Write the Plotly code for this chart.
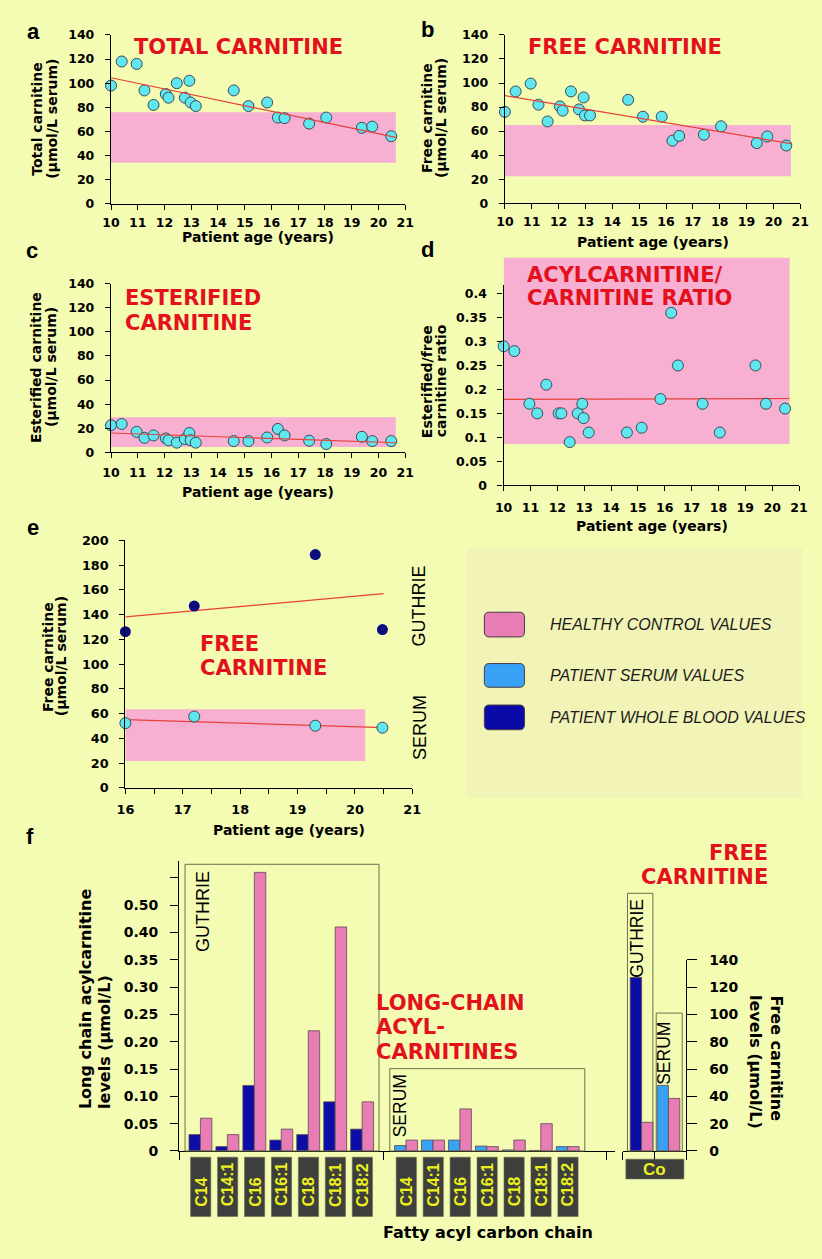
import plotly.graph_objects as go

W, H = 822, 1259
def X(p): return p / W
def Y(p): return 1 - p / H

# ---------------- data ----------------
age = [10.0, 10.4, 10.96, 11.25, 11.59, 12.05, 12.15, 12.46, 12.76, 12.93, 12.98,
       13.17, 14.59, 15.14, 15.84, 16.24, 16.49, 17.41, 18.05, 19.38, 19.77, 20.48]
total_carnitine = [98, 118, 116, 94, 82, 91, 88, 100, 88, 102, 84,
                   81, 94, 81, 84, 71.5, 71, 66.5, 71.5, 63, 64, 56]
free_carnitine = [76, 93, 99.5, 82, 68, 80.5, 77, 93, 78, 88, 73,
                  73, 86, 72, 72, 52, 56, 57, 64, 50, 55.5, 48]
esterified_carnitine = [22.5, 23.5, 17, 12, 14, 11.5, 10, 8, 11, 16, 10,
                        8, 9.3, 9.3, 12.3, 19.4, 14, 9.6, 6.8, 12.9, 9.3, 9.3]
ester_free_ratio = [0.29, 0.28, 0.17, 0.15, 0.21, 0.15, 0.15, 0.09, 0.15, 0.17, 0.14,
                    0.11, 0.11, 0.12, 0.18, 0.36, 0.25, 0.17, 0.11, 0.25, 0.17, 0.16]

trend_age = [10, 20.65]
total_trend = [104.5, 55]
free_trend = [89.5, 49.5]
ester_trend = [16, 7.9]
ratio_trend = [0.179, 0.181]

ref_age = [10, 20.65]
ref_total = [34, 76]
ref_free = [22.5, 65]
ref_ester = [4.4, 29]
ref_ratio = [0.086, 0.475]

e_age = [16.0, 17.2, 19.31, 20.48]
e_guthrie = [126.3, 147, 188.6, 128]
e_serum = [52.4, 57.7, 50.3, 48.7]
e_trend_age = [16, 20.5]
e_guthrie_trend = [138.3, 157]
e_serum_trend = [55.3, 48.7]
e_ref_age = [16, 20.18]
e_ref_free = [21.8, 63.6]

fatty = ["C14", "C14:1", "C16", "C16:1", "C18", "C18:1", "C18:2"]
guthrie_patient = [0.03, 0.008, 0.12, 0.02, 0.03, 0.09, 0.04]
guthrie_control = [0.06, 0.03, 0.51, 0.04, 0.22, 0.41, 0.09]
serum_patient = [0.01, 0.02, 0.02, 0.009, 0.002, 0.001, 0.008]
serum_control = [0.02, 0.02, 0.077, 0.008, 0.02, 0.05, 0.008]

co_groups = ["GUTHRIE", "SERUM"]
co_patient = [127, 48]
co_control = [21, 38.5]

f_ticks = [0, 0.05, 0.10, 0.15, 0.20, 0.25, 0.30, 0.35, 0.40, 0.45, 0.50]
f_ticktext = ["0", "0.05", "0.10", "0.15", "0.20", "0.25", "0.30", "0.35", "0.40", "0.50", ""]
ratio_ticks = [0, 0.05, 0.1, 0.15, 0.2, 0.25, 0.3, 0.35, 0.4]
ratio_ticktext = ["0", "0.05", "0.1", "0.15", "0.2", "0.25", "0.3", "0.35", "0.4"]

legend_items = ["HEALTHY CONTROL VALUES", "PATIENT SERUM VALUES", "PATIENT WHOLE BLOOD VALUES"]

# ---------------- styles ----------------
BG = "#f4fbb3"
LEG_BG = "#f2f3b6"
RED = "#e3111c"
CYAN = "#5fe6ef"
NAVY_M = "#0c0c7e"
NAVY = "#0c0ca6"
BLUE = "#38a2f6"
PINK = "#e87cb4"
BAND = "#f7afd2"
TREND = "#e8413a"
BOLD = "DejaVu Sans"
ARIAL = "Liberation Sans"

fig = go.Figure()

def scatter(x, y, ax, color=CYAN, outline=True):
    fig.add_trace(go.Scatter(
        x=x, y=y, mode="markers", xaxis=ax[0], yaxis=ax[1], cliponaxis=False,
        marker=dict(size=11, color=color,
                    line=dict(width=1 if outline else 0, color="#3a4a55")),
        showlegend=False, hoverinfo="skip"))

def line(x, y, ax):
    fig.add_trace(go.Scatter(
        x=x, y=y, mode="lines", xaxis=ax[0], yaxis=ax[1],
        line=dict(color=TREND, width=1.2), showlegend=False, hoverinfo="skip"))

# panels a-d
scatter(age, total_carnitine, ("x", "y"))
line(trend_age, total_trend, ("x", "y"))
scatter(age, free_carnitine, ("x2", "y2"))
line(trend_age, free_trend, ("x2", "y2"))
scatter(age, esterified_carnitine, ("x3", "y3"))
line(trend_age, ester_trend, ("x3", "y3"))
line(trend_age, ratio_trend, ("x4", "y4"))
scatter(age, ester_free_ratio, ("x4", "y4"))

# panel e
line(e_trend_age, e_guthrie_trend, ("x5", "y5"))
line(e_trend_age, e_serum_trend, ("x5", "y5"))
scatter(e_age, e_guthrie, ("x5", "y5"), color=NAVY_M, outline=False)
scatter(e_age, e_serum, ("x5", "y5"))

# panel f (left)
g_x = [i for i in range(len(fatty))]
s_x = [i + 7.63 for i in range(len(fatty))]
BW = 0.425
def bar(x, y, color, offset, width, ax):
    fig.add_trace(go.Bar(
        x=x, y=y, xaxis=ax[0], yaxis=ax[1], width=width, offset=offset,
        marker=dict(color=color, line=dict(color="#5a4a55", width=0.8)),
        showlegend=False, hoverinfo="skip"))

bar(g_x, guthrie_patient, NAVY, -BW, BW, ("x6", "y6"))
bar(g_x, guthrie_control, PINK, 0, BW, ("x6", "y6"))
bar(s_x, serum_patient, BLUE, -BW, BW, ("x6", "y6"))
bar(s_x, serum_control, PINK, 0, BW, ("x6", "y6"))

# panel f (right)
co_x = [0.59, 1.44]
bar(co_x, co_patient, [NAVY, BLUE], -0.36, 0.36, ("x7", "y7"))
bar(co_x, co_control, PINK, 0, 0.36, ("x7", "y7"))

# ---------------- axes ----------------
def base(size=12.5, ticklen=5, standoff=4):
    return dict(showline=True, linecolor="black", linewidth=1.4, ticks="outside",
                ticklen=ticklen, tickwidth=1.4, tickcolor="black", showgrid=False,
                zeroline=False, fixedrange=True, ticklabelstandoff=standoff,
                tickfont=dict(family=BOLD, size=size, color="black", weight="bold"))

ages_ticks = list(range(10, 22))
def xax(l, r, rng, anchor, tickvals, ticktext=None, **kw):
    d = base(**kw)
    d.update(domain=[X(l), X(r)], range=rng, anchor=anchor, tickmode="array", tickvals=tickvals)
    if ticktext is not None:
        d["ticktext"] = ticktext
    return d

def yax(top, bottom, rng, anchor, tickvals, ticktext=None, side="left", **kw):
    d = base(**kw)
    d.update(domain=[Y(bottom), Y(top)], range=rng, anchor=anchor, tickmode="array",
             tickvals=tickvals, side=side)
    if ticktext is not None:
        d["ticktext"] = ticktext
    return d

e_ticks = [16 + 0.5 * i for i in range(11)]
e_ticktext = [str(int(v)) if v == int(v) else "" for v in e_ticks]

fig.update_layout(
    xaxis=xax(104.3, 405, [10, 21], "y", ages_ticks, standoff=2),
    yaxis=yax(27.3, 198.3, [0, 140], "x", list(range(0, 141, 20)), standoff=8),
    xaxis2=xax(507, 809, [10, 21], "y2", ages_ticks, standoff=2),
    yaxis2=yax(27.3, 197.7, [0, 140], "x2", list(range(0, 141, 20)), standoff=8),
    xaxis3=xax(104.3, 405, [10, 21], "y3", ages_ticks, standoff=4),
    yaxis3=yax(279.3, 450, [0, 140], "x3", list(range(0, 141, 20)), standoff=8),
    xaxis4=xax(505.7, 807.7, [10, 21], "y4", ages_ticks, standoff=6),
    yaxis4=yax(280.6, 483.3, [0, 0.418], "x4", ratio_ticks, ratio_ticktext, standoff=8),
    xaxis5=xax(119, 412.3, [16, 21], "y5", e_ticks, e_ticktext, size=12.8, standoff=4),
    yaxis5=yax(539.3, 790, [0, 200], "x5", list(range(0, 201, 20)), size=12.8, standoff=8),
    xaxis6=xax(174, 620, [-0.788, 15.40], "y6", [-0.788, 6.81, 15.07],
               ["", "", ""], ticklen=8),
    yaxis6=yax(864.4, 1157.7, [0, 0.53], "x6", f_ticks, f_ticktext, size=14,
               ticklen=8, standoff=9),
    xaxis7=xax(627.7, 692.3, [0, 2], "y7", [0, 1, 2], ["", "", ""], ticklen=8),
    yaxis7=yax(964, 1157.7, [0, 140], "x7", list(range(0, 141, 20)), side="right",
               size=14, ticklen=10, standoff=9),
)

# ---------------- shapes ----------------
shapes = []
# legend background
shapes.append(dict(type="rect", xref="paper", yref="paper", x0=X(468.3), x1=X(811.7),
                   y0=Y(800), y1=Y(547.3), fillcolor=LEG_BG, line=dict(width=0), layer="below"))

def band(ax, xr, yr):
    shapes.append(dict(type="rect", xref=ax[0], yref=ax[1], x0=xr[0], x1=xr[1],
                       y0=yr[0], y1=yr[1], fillcolor=BAND, line=dict(width=0), layer="below"))

band(("x", "y"), ref_age, ref_total)
band(("x2", "y2"), ref_age, ref_free)
band(("x3", "y3"), ref_age, ref_ester)
band(("x5", "y5"), e_ref_age, e_ref_free)
# panel d band extends above the axis: use axis x / paper y (0.418 -> 280.6 px, scale 485 px/unit)
shapes.append(dict(type="rect", xref="x4", yref="paper", x0=ref_age[0], x1=ref_age[1],
                   y0=Y(483.3 - ref_ratio[0] * 485), y1=Y(483.3 - ref_ratio[1] * 485),
                   fillcolor=BAND, line=dict(width=0), layer="below"))

def pbox(l, t, r, b, color="#6d6d52", width=1, fill=None):
    d = dict(type="rect", xref="paper", yref="paper", x0=X(l), x1=X(r), y0=Y(b), y1=Y(t),
             line=dict(color=color, width=width))
    if fill:
        d["fillcolor"] = fill
    shapes.append(d)

pbox(180, 867.3, 378.3, 1157.7)
pbox(389.3, 1074.3, 588.7, 1157.7)
pbox(632.3, 896.7, 658.3, 1157.7)
pbox(661.7, 1018, 688.3, 1157.7)

# category label boxes
for pos in g_x + s_x:
    shapes.append(dict(type="rect", xref="x6", yref="paper", x0=pos - 0.365, x1=pos + 0.385,
                       y0=Y(1224), y1=Y(1164), fillcolor="#3d3f3c",
                       line=dict(color="#6a6a50", width=0.6)))
pbox(630.7, 1166, 690, 1186, color="#6a6a50", width=0.6, fill="#3d3f3c")

# legend swatches (rounded)
def rrect(l, t, r, b, rad=5):
    pts = [("M", l + rad, t), ("L", r - rad, t), ("Q", r, t, r, t + rad), ("L", r, b - rad),
           ("Q", r, b, r - rad, b), ("L", l + rad, b), ("Q", l, b, l, b - rad),
           ("L", l, t + rad), ("Q", l, t, l + rad, t)]
    s = ""
    for p in pts:
        cmd = p[0]
        coords = p[1:]
        parts = []
        for i in range(0, len(coords), 2):
            parts.append(f"{X(coords[i]):.5f},{Y(coords[i+1]):.5f}")
        s += cmd + " ".join(parts) + " "
    return s + "Z"

swatch_colors = [PINK, BLUE, "#0a0aa8"]
swatch_y = [(612, 637), (664, 688), (706, 731)]
for c, (t, b) in zip(swatch_colors, swatch_y):
    shapes.append(dict(type="path", xref="paper", yref="paper", path=rrect(486, t, 527, b),
                       fillcolor=c, line=dict(color="#4a3a40", width=1)))

fig.update_layout(shapes=shapes)

# ---------------- annotations ----------------
ann = []
def text(s, x, y, size=14, family=BOLD, color="black", weight="bold", angle=0,
         xanchor="center", yanchor="middle", xref="paper", style="normal"):
    ann.append(dict(text=s, x=X(x) if xref == "paper" else x, y=Y(y), xref=xref, yref="paper",
                    showarrow=False, textangle=angle, xanchor=xanchor, yanchor=yanchor,
                    font=dict(family=family, size=size, color=color, weight=weight, style=style)))

# panel letters
for s, x, y in [("a", 25, 24), ("b", 428, 22), ("c", 24, 246), ("d", 428, 245),
                ("e", 25, 526), ("f", 21, 839)]:
    text(s, x, y, size=22, family=ARIAL)

# red titles
def red(s, x, y, xanchor="left"):
    text(s, x, y, size=21, color=RED, xanchor=xanchor)
red("TOTAL CARNITINE", 126, 40)
red("FREE CARNITINE", 529, 39.5)
red("ESTERIFIED", 116.7, 294)
red("CARNITINE", 116.7, 319)
red("ACYLCARNITINE/", 528, 270.5)
red("CARNITINE RATIO", 528, 294)
red("FREE", 193, 644)
red("CARNITINE", 193, 669)
red("LONG-CHAIN", 372.7, 1007.5)
red("ACYL-", 372.7, 1032.5)
red("CARNITINES", 372.7, 1057.5)
red("FREE", 778, 855.5, xanchor="right")
red("CARNITINE", 778, 880.5, xanchor="right")

# x-axis titles
text("Patient age (years)", 255, 231.5)
text("Patient age (years)", 658, 237)
text("Patient age (years)", 255, 490)
text("Patient age (years)", 657.5, 525)
text("Patient age (years)", 286.7, 832.5)
text("Fatty acyl carbon chain", 490, 1240.5, size=16)

# y-axis titles
for l1, l2, x1, x2, yc in [("Total carnitine", "(µmol/L serum)", 28.3, 43.7, 112.5),
                           ("Free carnitine", "(µmol/L serum)", 427.3, 441.7, 111.5),
                           ("Esterified carnitine", "(µmol/L serum)", 28.3, 43.7, 364),
                           ("Esterified/free", "carnitine ratio", 427.3, 441.7, 378),
                           ("Free carnitine", "(µmol/L serum)", 39.3, 52.7, 657)]:
    text(l1, x1, yc, angle=-90)
    text(l2, x2, yc, angle=-90)
text("Long chain acylcarnitine", 79, 1117, size=16, angle=-90, yanchor="bottom")
text("levels (µmol/L)", 98.3, 1117, size=16, angle=-90, yanchor="bottom")
text("Free carnitine", 785, 998, size=16, angle=90, yanchor="top")
text("levels (µmol/L)", 763, 998, size=16, angle=90, yanchor="top")

# sample type labels
def plain(s, x, y, yanchor="middle", size=18):
    text(s, x, y, size=size, family=ARIAL, weight="normal", angle=-90, yanchor=yanchor)
plain("GUTHRIE", 419.5, 606)
plain("SERUM", 419.5, 729)
plain(co_groups[0], 198.3, 871.7, yanchor="top")
plain(co_groups[1], 399.3, 1078, yanchor="top", size=17.5)
plain(co_groups[0], 641.7, 900, yanchor="top", size=17.5)
plain(co_groups[1], 670, 1025, yanchor="top", size=17.5)

# category labels
YEL = "#eef01e"
for pos, lab in zip(g_x + s_x, fatty + fatty):
    ann.append(dict(text=lab, x=pos + 0.01, y=Y(1216), xref="x6", yref="paper",
                    showarrow=False, textangle=-90, xanchor="center", yanchor="bottom",
                    font=dict(family=ARIAL, size=16, color=YEL, weight="bold")))
text("Co", 660.3, 1176.5, size=17, family=ARIAL, color=YEL)

# legend text
for lab, (t, b) in zip(legend_items, swatch_y):
    text(lab, 551, (t + b) / 2, size=16, family=ARIAL, weight="normal", color="#1c1c1c",
         xanchor="left", style="italic")

fig.update_layout(annotations=ann)

fig.update_layout(width=W, height=H, autosize=False, margin=dict(l=0, r=0, t=0, b=0),
                  paper_bgcolor=BG, plot_bgcolor="rgba(0,0,0,0)", barmode="overlay",
                  showlegend=False)

fig.write_html("out.html", config={"displayModeBar": False},
               post_script="document.documentElement.style.margin='0';"
                           "document.body.style.margin='0';document.body.style.padding='0';"
                           "document.body.style.background='" + BG + "';"
                           "document.documentElement.style.overflow='hidden';"
                           "document.body.style.overflow='hidden';")
